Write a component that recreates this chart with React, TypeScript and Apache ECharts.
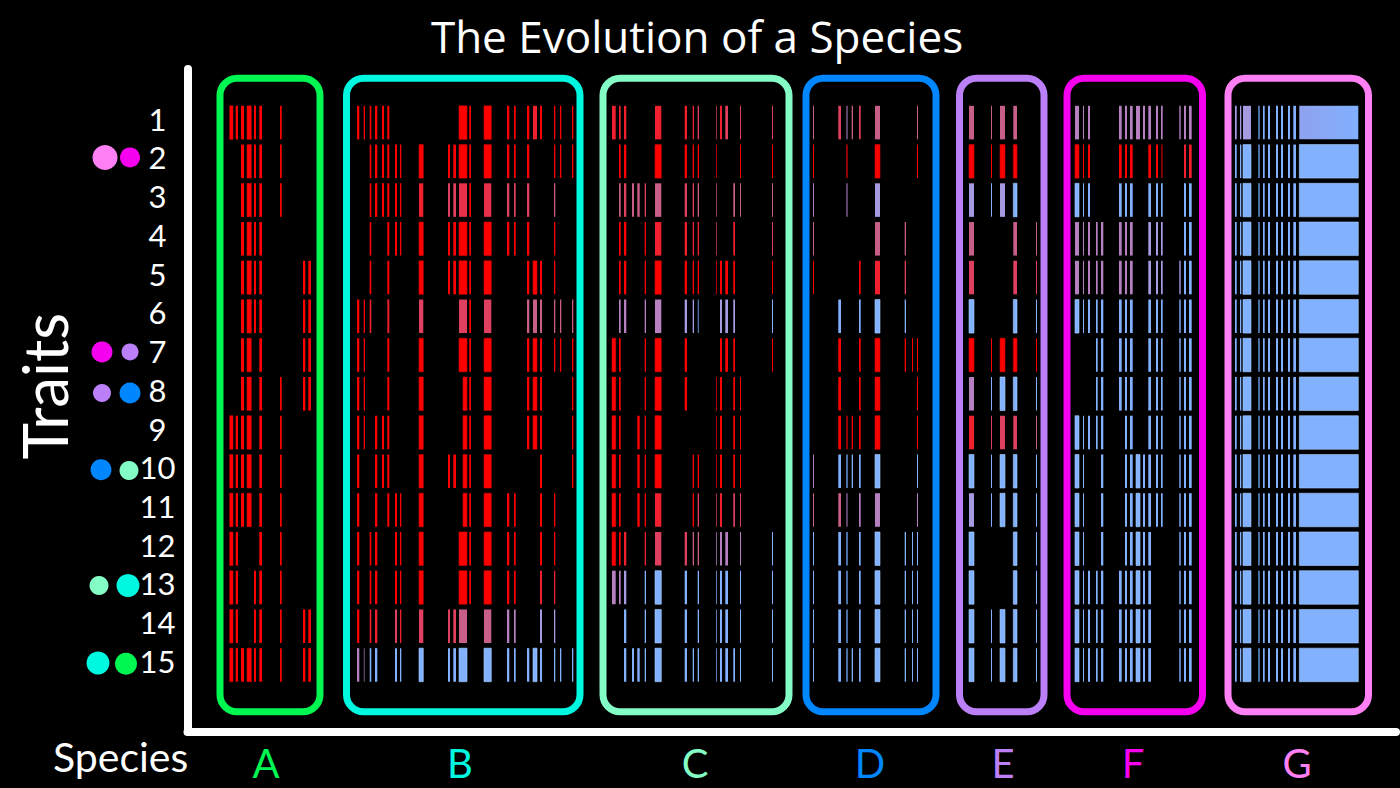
import React, { useEffect, useRef } from "react";
import * as echarts from "echarts";

const title = "The Evolution of a Species";
const traits = [1, 2, 3, 4, 5, 6, 7, 8, 9, 10, 11, 12, 13, 14, 15];
const species = ["A", "B", "C", "D", "E", "F", "G"];
const speciesCenters = [266, 460, 695, 870, 1003, 1133, 1297];
const speciesColors = ["#00f752", "#00f8e0", "#84fcc6", "#0086ff", "#bb80f8", "#f600f0", "#ff80f5"];
const panelSpans = [[220, 320], [346.5, 580], [603, 789], [806, 936], [959.5, 1044], [1067, 1202.5], [1228, 1368.5]];

// genome positions of the stripes of each species
const colsA = [[229.7, 233], [235.7, 238], [241, 244], [247, 251.3], [254, 256], [259.3, 262], [280, 281.7], [303, 305.3], [308.3, 311]];
const rowsA = ["rrrrrrr..", "..rrrrr..", "..rrrrr..", "..rrrr...", "..rrrr.rr", "..rrrr.rr", "..rr.r.rr", "..rr.rrrr", "rrrr.rr..", "rrrr.rr..", "rrrr.rr..", "rr...rr..", "rr..rrr..", "rr..rrrrr", "rrrrrrrrr"];

const colsB = [[357, 359.3], [363.7, 365], [369.7, 371.3], [375, 377.3], [382, 384], [387.3, 389.3], [395, 397], [400, 401.3], [419, 423.3], [448, 450], [453.3, 456], [459, 467], [463, 467], [469.3, 471], [484, 491.3], [507, 509.3], [514, 515.7], [527, 529.3], [533, 537], [540, 542], [554, 555.3], [560, 561.3], [572, 573.3]];
const rowsB = [
  "rrrrrr.....r.rrrrrarrrr",
  "..rrrrrrrrrr.rrrrr..rrr",
  "..rrrrrrabbh.rhbbb..p..",
  "..r..rrrrrrr.rrrrr..r..",
  "..r..r..rrrr.rr..rrrr..",
  "rra..a..b..b.rb..pppppp",
  "rr...r..r..r.rr..rrrrrr",
  "rr...r..r...rrr..rrr..r",
  "rr.rrr..r...rrr..rrr..r",
  "r..rrr..rrr.rrr....r..r",
  "r..r.rrrr...rrrrr..rr..",
  "r.rr..rrr..r.rrrr..rr..",
  "r.rr..rrr..r.rrrr..aa..",
  "r.aa..babbbp..pmm..vv..",
  "mell..llllll..lllllllll",
];

const colsC = [[612, 615.7], [619, 620.7], [624, 626.3], [632, 634], [637.3, 639.7], [644.7, 646], [655, 661.3], [684.7, 687], [692.7, 694], [697.7, 699], [716.3, 717], [720, 722], [725.3, 728], [733.3, 735], [740, 741], [772, 773]];
const rowsC = [
  "aaa...aaabbab.bb",
  ".rr...rrrrr...rr",
  ".pbppbpbbpp..ppp",
  ".rr..raaaab..a.b",
  ".rr..rrrrrrrrr.r",
  ".mm..mmvvf.vvv.l",
  "rr...rrr...rrr.r",
  "rr...rrr..rr.rr.",
  "rr..rrr...rr.rr.",
  "rr..rrr.rrrr.rr.",
  "rr..rra.rbba.bb.",
  "rra..abbppmmm.ml",
  "mmv..lll.llll.ll",
  "..l..lll.llll.ll",
  "..llllllllllllll",
];

const colsD = [[813, 814], [838.3, 841], [846, 848], [851.7, 853], [859, 860.7], [875, 880], [904.7, 906], [912, 913], [917, 918]];
const rowsD = ["pbepbp..p", "r.d..r..r", "m.e..v...", "p....pp..", "r...rab..", ".l..lll..", ".r..rrrrr", ".r..rr..r", ".rdrrr..r", "mlflll..l", "ppe.mm..m", "llf.lllll", "llf.lllll", "llf.lllll", "llfllllll"];

const colsE = [[969, 974], [991, 992], [1000, 1005], [1013.3, 1017], [1036, 1037]];
const rowsE = ["pppp.", "rrrr.", "vlvl.", "p..pp", "b..bb", "l..ll", "rrrrr", "mllll", "abbbp", "lllll", "vllll", "l..ll", "l..ll", "lllll", "lllll"];

const colsF = [[1075, 1079], [1083, 1084], [1088, 1090], [1096, 1097.7], [1101, 1103.3], [1119, 1121.7], [1125, 1127], [1130, 1132.7], [1136, 1140], [1143, 1145], [1148.3, 1151], [1156, 1158], [1161, 1162.7], [1179.3, 1180.7], [1184, 1186], [1189, 1191.7]];
const rowsF = ["mmm..mmmmmmmmmmm", "rrr..rrr..rrd.aa", "lll..lll..lll.ll", "mmmmmmmm..vvv.ll", "mmmmmmmm..vvvvll", "llllllll..llllll", "...lllll..llllll", "...lllll..llllll", "lllll.ll..llllll", "ll..l.llllllllll", "ll..l.llllllllll", "ll..l.lllll..lll", "lllllllllll..lll", "lllllllllll..lll", "lllllllllll..lll"];

const colsG = [[1235, 1236.7], [1240, 1241.3], [1243, 1251], [1258, 1260], [1263, 1264.7], [1268, 1270], [1276, 1278], [1281, 1283], [1288, 1290], [1293.3, 1296], [1299.3, 1358.3]];
const rowsG = ["vvvfllllllg", "lllflllllll", "lllflllllll", "lllflllllll", "lllflllllll", "lllflllllll", "lllflllllll", "lllflllllll", "lllflllllll", "lllflllllll", "lllflllllll", "lllflllllll", "lllflllllll", "lllflllllll", "lllflllllll"];

// mutation pairs beside the trait labels: [position, trait, diameter, species index]
const pairDots = [
  [105, 1.9, 25, 6], [130, 1.9, 20, 5],
  [102, 6.92, 21, 5], [130, 6.92, 17, 4],
  [102, 7.98, 18, 4], [130, 7.98, 21, 3],
  [101, 9.96, 21, 3], [129, 9.98, 19, 2],
  [99, 12.95, 19, 2], [128, 12.95, 23, 1],
  [98, 14.95, 23, 1], [126, 14.97, 22, 0],
];

const allCols = [colsA, colsB, colsC, colsD, colsE, colsF, colsG];
const allRows = [rowsA, rowsB, rowsC, rowsD, rowsE, rowsF, rowsG];

const fills: Record<string, any> = {
  r: "#ff0000",
  a: "#f0202f",
  h: "#e8304a",
  b: "#e0405f",
  p: "#c85f88",
  m: "#b57fc0",
  v: "#a69be0",
  l: "#82b1ff",
  d: "#900000",
  e: "#5c4468",
  f: "#4a6fa5",
  g: new echarts.graphic.LinearGradient(0, 0, 1, 0, [
    { offset: 0, color: "#8fa2ee" },
    { offset: 1, color: "#80b0ff" },
  ]),
};
const edges: Record<string, string> = { l: "#a9cfff", r: "#d00000" };

const stripes: { x0: number; x1: number; t: number; c: string }[] = [];
allRows.forEach((rows, s) => {
  rows.forEach((row, t) => {
    row.split("").forEach((c, i) => {
      if (c !== ".") stripes.push({ x0: allCols[s][i][0], x1: allCols[s][i][1], t: traits[t], c });
    });
  });
});

const HAND = "Lato, 'Open Sans', sans-serif";

export default function App() {
  const ref = useRef<HTMLDivElement>(null);
  useEffect(() => {
    document.body.style.margin = "0";
    document.body.style.background = "#000";
    const chart = echarts.init(ref.current!, null, { renderer: "svg" });
    chart.setOption({
      animation: false,
      backgroundColor: "#000",
      title: {
        text: title,
        left: 692,
        top: 9,
        textAlign: "center",
        textStyle: { color: "#fff", fontFamily: "'Open Sans', sans-serif", fontWeight: 400, fontSize: 44 },
      },
      grid: { left: 187.5, top: 69, width: 1396 - 187.5, height: 662.5, outerBoundsMode: "none" },
      xAxis: {
        type: "value",
        min: 187.5,
        max: 1396,
        splitLine: { show: false },
        axisTick: { show: false },
        axisLine: { show: true, onZero: false, lineStyle: { color: "#fff", width: 8 } },
        axisLabel: {
          show: true,
          customValues: speciesCenters,
          showMinLabel: true,
          showMaxLabel: true,
          margin: 11,
          fontFamily: HAND,
          fontSize: 40,
          formatter: (v: number) => species[speciesCenters.indexOf(v)],
          color: (v: any) => speciesColors[speciesCenters.indexOf(Number(v))],
        },
      },
      yAxis: {
        type: "value",
        inverse: true,
        min: -0.3836,
        max: 16.718,
        splitLine: { show: false },
        axisTick: { show: false },
        axisLine: { show: true, onZero: false, lineStyle: { color: "#fff", width: 8 } },
        axisLabel: {
          show: true,
          customValues: traits,
          showMinLabel: true,
          showMaxLabel: true,
          margin: 30,
          align: "center",
          verticalAlign: "bottom",
          lineHeight: 8,
          color: "#fff",
          fontFamily: HAND,
          fontSize: 31,
        },
        name: "Traits",
        nameLocation: "middle",
        nameRotate: 90,
        nameGap: 113,
        nameTextStyle: { color: "#fff", fontFamily: HAND, fontSize: 62, padding: [0, 0, 0, 28] },
      },
      graphic: [
        {
          type: "text",
          x: 53,
          y: 736,
          style: { text: "Species", fill: "#fff", font: "41px Lato, sans-serif" },
        },
      ],
      series: [
        {
          type: "custom",
          name: "panels",
          coordinateSystem: "cartesian2d",
          silent: true,
          clip: false,
          data: panelSpans.map((p, i) => [p[0], p[1], i]),
          renderItem: (params: any, api: any) => {
            const a = api.coord([api.value(0), -0.143]);
            const b = api.coord([api.value(1), 16.21]);
            return {
              type: "rect",
              shape: { x: a[0], y: a[1], width: b[0] - a[0], height: b[1] - a[1], r: 17 },
              style: { fill: "none", stroke: speciesColors[params.dataIndex], lineWidth: 7 },
            };
          },
        },
        {
          type: "custom",
          name: "stripes",
          coordinateSystem: "cartesian2d",
          silent: true,
          clip: false,
          data: stripes.map((s) => [s.x0, s.x1, s.t]),
          renderItem: (params: any, api: any) => {
            const s = stripes[params.dataIndex];
            const half = 0.433;
            const a = api.coord([api.value(0), api.value(2) - half]);
            const b = api.coord([api.value(1), api.value(2) + half]);
            const w = b[0] - a[0];
            return {
              type: "rect",
              shape: { x: a[0], y: a[1], width: w, height: b[1] - a[1] },
              style: {
                fill: fills[s.c],
                stroke: w > 3 && edges[s.c] ? edges[s.c] : "none",
                lineWidth: 0.6,
              },
            };
          },
        },
        {
          type: "scatter",
          name: "pairs",
          silent: true,
          clip: false,
          symbol: "circle",
          symbolSize: (d: number[]) => d[2],
          itemStyle: { color: (p: any) => speciesColors[p.value[3]], opacity: 1 },
          data: pairDots,
        },
      ],
    });
    return () => chart.dispose();
  }, []);
  return <div ref={ref} style={{ width: 1400, height: 788 }} />;
}
